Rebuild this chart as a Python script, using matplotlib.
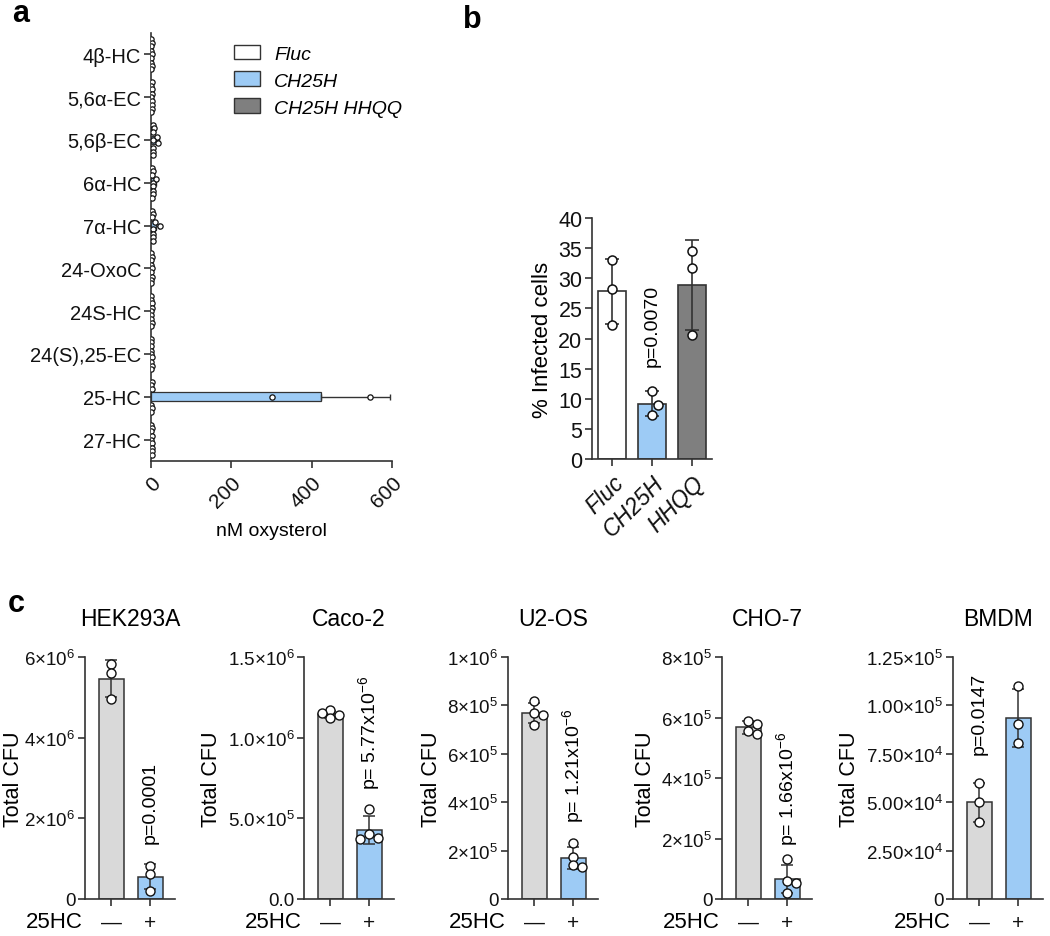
import numpy as np
import matplotlib
matplotlib.use('Agg')
import matplotlib.pyplot as plt
from matplotlib.patches import Patch

plt.rcParams['font.family'] = ['Liberation Sans', 'DejaVu Sans']
plt.rcParams['mathtext.fontset'] = 'custom'
plt.rcParams['mathtext.rm'] = 'Liberation Sans'
plt.rcParams['mathtext.it'] = 'Liberation Sans:italic'
plt.rcParams['mathtext.bf'] = 'Liberation Sans:bold'
plt.rcParams['axes.linewidth'] = 1.2

W, H = 1050, 937

WHITE = '#ffffff'
BLUE = '#9dcbf5'
DARK = '#7f7f7f'
LIGHT = '#d9d9d9'
EDGE = '#333333'

# panel a: oxysterol levels (nM), three replicates per group
OXYSTEROLS = ['4β-HC', '5,6α-EC', '5,6β-EC', '6α-HC', '7α-HC', '24-OxoC',
              '24S-HC', '24(S),25-EC', '25-HC', '27-HC']
A_GROUPS = ['Fluc', 'CH25H', 'CH25H HHQQ']
A_FLUC = [[1, 2, 1], [2, 1, 2], [6, 8, 4], [2, 4, 3], [3, 4, 2],
          [1, 2, 1], [1, 1, 2], [1, 1, 1], [2, 1, 2], [1, 2, 1]]
A_CH25H = [[1, 2, 1], [2, 1, 2], [14, 6, 18], [12, 6, 4], [10, 22, 5],
           [1, 2, 1], [2, 1, 1], [1, 1, 2], [300, 545], [2, 1, 2]]
A_HHQQ = [[1, 2, 1], [2, 2, 1], [5, 4, 6], [5, 6, 3], [6, 4, 5],
          [2, 1, 1], [1, 2, 1], [1, 2, 1], [1, 2, 1], [2, 3, 2]]

# panel b: % infected cells
B_LABELS = ['Fluc', 'CH25H', 'HHQQ']
B_VALUES = [[33.0, 28.2, 22.3], [11.3, 9.0, 7.3], [34.5, 31.7, 20.5]]
B_PVALUE = 'p=0.0070'

# panel c: total CFU, control vs 25HC
C_TITLES = ['HEK293A', 'Caco-2', 'U2-OS', 'CHO-7', 'BMDM']
C_CTRL = [[5.82e6, 5.61e6, 4.95e6],
          [1.17e6, 1.14e6, 1.12e6, 1.15e6],
          [0.82e6, 0.77e6, 0.76e6, 0.72e6],
          [5.9e5, 5.8e5, 5.55e5, 5.45e5],
          [6.0e4, 5.0e4, 4.0e4]]
C_HC = [[0.83e6, 0.62e6, 0.21e6],
        [0.56e6, 0.40e6, 0.38e6, 0.37e6],
        [0.23e6, 0.172e6, 0.14e6, 0.134e6],
        [1.32e5, 0.58e5, 0.52e5, 0.21e5],
        [1.10e5, 0.906e5, 0.804e5]]
C_YMAX = [6e6, 1.5e6, 1e6, 8e5, 1.25e5]
C_YTICKS = [[0, 2e6, 4e6, 6e6],
            [0, 5e5, 1e6, 1.5e6],
            [0, 2e5, 4e5, 6e5, 8e5, 1e6],
            [0, 2e5, 4e5, 6e5, 8e5],
            [0, 2.5e4, 5e4, 7.5e4, 1e5, 1.25e5]]
C_YTICKLABELS = [['0', r'$2{\times}10^{6}$', r'$4{\times}10^{6}$', r'$6{\times}10^{6}$'],
                 ['0.0', r'$5.0{\times}10^{5}$', r'$1.0{\times}10^{6}$', r'$1.5{\times}10^{6}$'],
                 ['0', r'$2{\times}10^{5}$', r'$4{\times}10^{5}$', r'$6{\times}10^{5}$',
                  r'$8{\times}10^{5}$', r'$1{\times}10^{6}$'],
                 ['0', r'$2{\times}10^{5}$', r'$4{\times}10^{5}$', r'$6{\times}10^{5}$',
                  r'$8{\times}10^{5}$'],
                 ['0', r'$2.50{\times}10^{4}$', r'$5.00{\times}10^{4}$', r'$7.50{\times}10^{4}$',
                  r'$1.00{\times}10^{5}$', r'$1.25{\times}10^{5}$']]
C_PVALUES = ['p=0.0001', r'p= 5.77x10$^{-6}$', r'p= 1.21x10$^{-6}$',
             r'p= 1.66x10$^{-6}$', 'p=0.0147']
C_PBAR = [1, 1, 1, 1, 0]
C_PBOTTOM = [1.4e6, 0.68e6, 0.32e6, 1.78e5, 0.75e5]
C_LEFTS = [85, 304, 508, 722, 953]


def px_rect(left, top, right, bottom):
    return [left / W, 1 - bottom / H, (right - left) / W, (bottom - top) / H]


def style_axes(ax):
    ax.spines['top'].set_visible(False)
    ax.spines['right'].set_visible(False)
    ax.spines['left'].set_color(EDGE)
    ax.spines['bottom'].set_color(EDGE)
    ax.tick_params(colors=EDGE, labelcolor='#111111', width=1.2, length=5)


def spread(values, tol, step=0.22):
    placed = []
    offsets = []
    for v in values:
        taken = [o for pv, o in placed if abs(pv - v) < tol]
        k, off = 0, 0.0
        while any(abs(off - t) < 1e-9 for t in taken):
            k += 1
            off = step * ((k + 1) // 2) * (1 if k % 2 else -1)
        placed.append((v, off))
        offsets.append(off)
    return offsets


fig = plt.figure(figsize=(W / 100, H / 100), dpi=100)

# ---- panel a
ax = fig.add_axes(px_rect(151, 34, 392, 462))
style_axes(ax)
group_data = [A_FLUC, A_CH25H, A_HHQQ]
group_colors = [WHITE, BLUE, DARK]
group_offsets = [-0.27, 0.0, 0.27]
for data, color, goff in zip(group_data, group_colors, group_offsets):
    for i, vals in enumerate(data):
        y = i + goff
        mean = np.mean(vals)
        sd = np.std(vals, ddof=1)
        ax.barh(y, mean, height=0.21, color=color, edgecolor=EDGE,
                linewidth=0.9, zorder=2)
        ax.errorbar(mean, y, xerr=[[0], [sd]], fmt='none', ecolor=EDGE,
                    elinewidth=1.0, capsize=2, zorder=3)
        jit = np.linspace(-0.08, 0.08, len(vals)) if len(vals) > 2 else [0] * len(vals)
        ax.plot(vals, y + np.asarray(jit), 'o', ms=3.8, mfc='white',
                mec='#111111', mew=0.9, zorder=4)
ax.set_xlim(0, 600)
ax.set_ylim(9.5, -0.5)
ax.set_yticks(range(len(OXYSTEROLS)))
ax.set_yticklabels(OXYSTEROLS, fontsize=14.5)
ax.tick_params(axis='y', pad=2)
ax.set_xticks([0, 200, 400, 600])
ax.set_xticklabels(['0', '200', '400', '600'], fontsize=15, rotation=45,
                   ha='right', rotation_mode='anchor')
ax.set_xlabel('nM oxysterol', fontsize=14, labelpad=8)

handles = [Patch(facecolor=c, edgecolor=EDGE, linewidth=1.0) for c in group_colors]
fig.legend(handles, A_GROUPS, loc='upper left',
           bbox_to_anchor=(216 / W, 1 - 28 / H), frameon=False,
           prop={'style': 'italic', 'size': 14}, handlelength=1.35,
           handleheight=0.8, handletextpad=0.75, labelspacing=0.45)

# ---- panel b
ax = fig.add_axes(px_rect(592, 219, 712, 460))
style_axes(ax)
b_colors = [WHITE, BLUE, DARK]
for i, (vals, color) in enumerate(zip(B_VALUES, b_colors)):
    mean = np.mean(vals)
    sd = np.std(vals, ddof=1)
    ax.bar(i, mean, width=0.68, color=color, edgecolor=EDGE, linewidth=1.2, zorder=2)
    ax.errorbar(i, mean, yerr=sd, fmt='none', ecolor=EDGE, elinewidth=1.2,
                capsize=5, capthick=1.2, zorder=3)
    offs = spread(vals, tol=2.5, step=0.14)
    ax.plot(i + np.asarray(offs), vals, 'o', ms=6.5, mfc='white', mec='#111111',
            mew=1.1, zorder=4)
ax.text(1, 15.5, B_PVALUE, rotation=90, ha='center', va='bottom', fontsize=14)
ax.set_xlim(-0.5, 2.5)
ax.set_ylim(0, 40)
ax.set_yticks(range(0, 41, 5))
ax.tick_params(axis='y', labelsize=15.5, pad=2)
ax.set_xticks(range(3))
ax.set_xticklabels(B_LABELS, fontsize=16.5, style='italic', rotation=45,
                   ha='right', rotation_mode='anchor')
ax.set_ylabel('% Infected cells', fontsize=16, labelpad=4)

# ---- panel c
for k, title in enumerate(C_TITLES):
    left = C_LEFTS[k]
    ax = fig.add_axes(px_rect(left, 658, left + 90, 900))
    style_axes(ax)
    ymax = C_YMAX[k]
    for i, (vals, color) in enumerate(zip([C_CTRL[k], C_HC[k]], [LIGHT, BLUE])):
        mean = np.mean(vals)
        sd = np.std(vals, ddof=1)
        ax.bar(i, mean, width=0.64, color=color, edgecolor=EDGE, linewidth=1.1, zorder=2)
        ax.errorbar(i, mean, yerr=sd, fmt='none', ecolor=EDGE, elinewidth=1.1,
                    capsize=4.5, capthick=1.1, zorder=3)
        offs = spread(vals, tol=0.025 * ymax, step=0.22)
        ax.plot(i + np.asarray(offs), vals, 'o', ms=6.5, mfc='white', mec='#111111',
                mew=1.0, zorder=4)
    ax.text(C_PBAR[k], C_PBOTTOM[k], C_PVALUES[k], rotation=90, ha='center',
            va='bottom', fontsize=14)
    ax.set_xlim(-0.67, 1.64)
    ax.set_ylim(0, ymax)
    ax.set_yticks(C_YTICKS[k])
    ax.set_yticklabels(C_YTICKLABELS[k], fontsize=13.5)
    ax.tick_params(axis='y', pad=2)
    ax.set_xticks([0, 1])
    ax.set_xticklabels(['—', '+'], fontsize=15)
    ax.tick_params(axis='x', pad=5)
    ax.set_ylabel('Total CFU', fontsize=15.5, labelpad=4)
    if k == 0:
        # keep the first label inside the figure edge
        ax.yaxis.set_label_coords(-(left - 24) / 90, 0.5)
    ax.text(0.5, 1 + 38 / 242, title, transform=ax.transAxes, ha='center',
            va='center', fontsize=16.5)
    ax.text(-0.03, -23 / 242, '25HC', transform=ax.transAxes, ha='right',
            va='center', fontsize=16)

fig.text(12 / W, 1 - 14 / H, 'a', fontsize=22, fontweight='bold', ha='left', va='center')
fig.text(463 / W, 1 - 20 / H, 'b', fontsize=22, fontweight='bold', ha='left', va='center')
fig.text(8 / W, 1 - 604 / H, 'c', fontsize=22, fontweight='bold', ha='left', va='center')

fig.savefig('out.png', dpi=100)
